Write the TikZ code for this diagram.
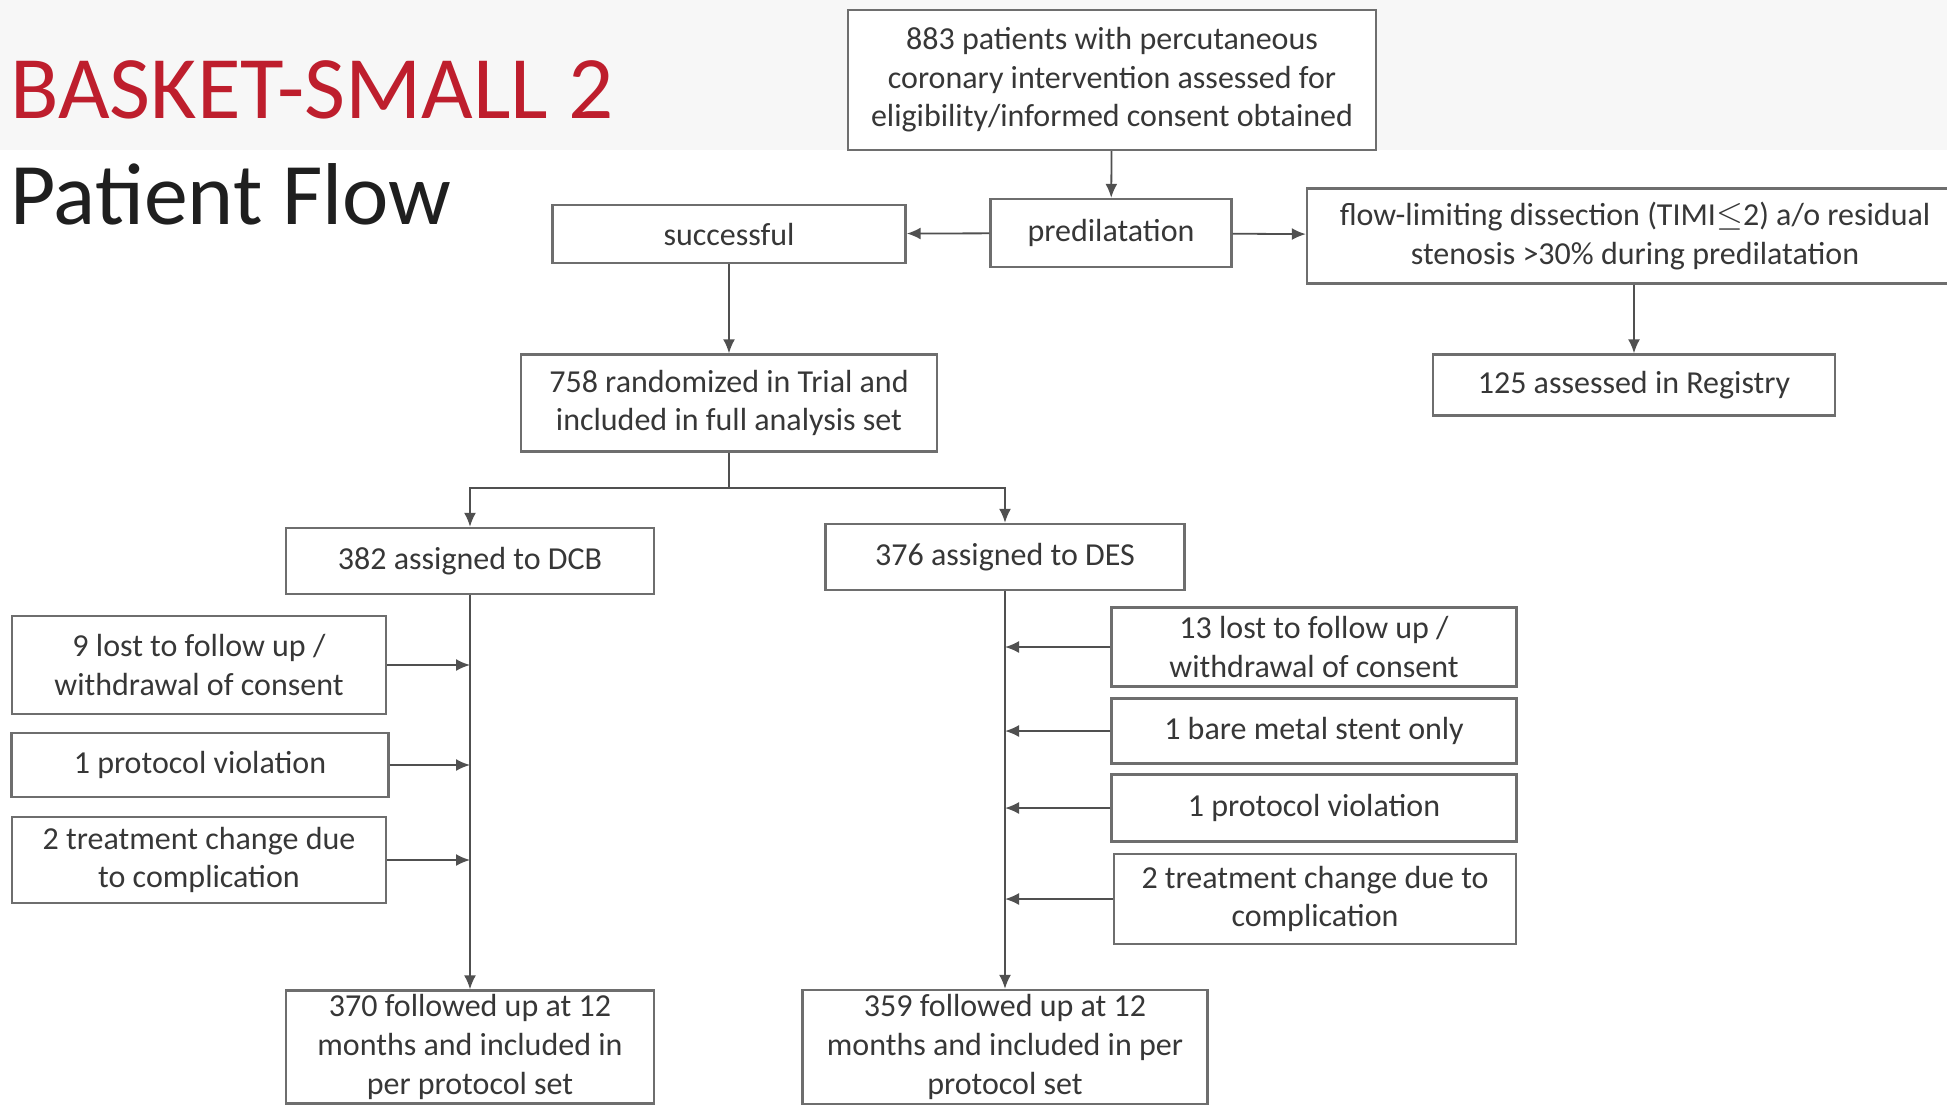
\documentclass[tikz,border=0pt]{standalone}
\usepackage{fontspec}
\setmainfont{Carlito}
\usetikzlibrary{arrows.meta,calc}

\definecolor{titlered}{RGB}{190,30,45}
\definecolor{boxgray}{RGB}{110,110,110}
\definecolor{linegray}{RGB}{80,80,80}
\definecolor{textgray}{RGB}{55,55,55}

\tikzset{
  box/.style={draw=boxgray,line width=1.2pt,fill=white,align=center,inner sep=0pt,
    text=textgray,font=\fontsize{16}{19.3}\selectfont},
  boxsize/.style 2 args={minimum width=#1*0.5pt,minimum height=#2*0.5pt},
  flow/.style={draw=linegray,line width=0.9pt,-{Latex[length=7pt,width=6pt]}},
}

\begin{document}
\begin{tikzpicture}[x=0.5pt,y=-0.5pt]

\clip (0,0) rectangle (1947,1105);
\fill[white] (0,0) rectangle (1947,1105);
\fill[black!3] (0,0) rectangle (1947,150);

\node[anchor=base west,inner sep=0pt,text=titlered,font=\fontsize{44.6}{48}\selectfont] (title) at (10,118) {BASKET-SMALL 2};
\node[anchor=base west,inner sep=0pt,text=black!88,font=\fontsize{43.9}{48}\selectfont] (subtitle) at (10,224) {Patient Flow};

% screening and predilatation
\node[box,boxsize={528}{140}] (screen) at (1112,80) {883 patients with percutaneous\\coronary intervention assessed for\\eligibility/informed consent obtained};
\node[box,boxsize={241}{68}] (predil) at (1111,233) {predilatation};
\node[box,boxsize={353}{58}] (success) at (729,234) {successful};
\node[box,boxsize={656}{95}] (flowlim) at (1635,236) {flow-limiting dissection (TIMI$\leq$2) a/o residual\\stenosis >30\% during predilatation};
\node[box,boxsize={402}{61}] (registry) at (1634,385) {125 assessed in Registry};
\node[box,boxsize={416}{97}] (random) at (729,403) {758 randomized in Trial and\\included in full analysis set};

% arms
\node[box,boxsize={368}{66}] (dcb) at (470,561) {382 assigned to DCB};
\node[box,boxsize={359}{66}] (des) at (1005,557) {376 assigned to DES};

\node[box,boxsize={374}{98}] (lostL) at (199,665) {9 lost to follow up /\\withdrawal of consent};
\node[box,boxsize={377}{64}] (protL) at (200,765) {1 protocol violation};
\node[box,boxsize={374}{86}] (treatL) at (199,860) {2 treatment change due\\to complication};

\node[box,boxsize={405}{79}] (lostR) at (1314,647) {13 lost to follow up /\\withdrawal of consent};
\node[box,boxsize={405}{65}] (bms) at (1314,731) {1 bare metal stent only};
\node[box,boxsize={405}{67}] (protR) at (1314,808) {1 protocol violation};
\node[box,boxsize={402}{90}] (treatR) at (1315,899) {2 treatment change due to\\complication};

\node[box,boxsize={368}{113}] (fuL) at (470,1047) {370 followed up at 12\\months and included in\\per protocol set};
\node[box,boxsize={405}{114}] (fuR) at (1005,1047) {359 followed up at 12\\months and included in per\\protocol set};

\coordinate (split) at (729,488);

\draw[flow] (screen) -- (predil);
\draw[flow] (predil) -- (success);
\draw[flow] (predil) -- (flowlim);
\draw[flow] (success) -- (random);
\draw[flow] (flowlim.south -| registry.north) -- (registry);
\draw[draw=linegray,line width=0.9pt] (random) -- (split);
\draw[flow] (split) -| (dcb);
\draw[flow] (split) -| (des);
\draw[flow] (dcb) -- (fuL);
\draw[flow] (des) -- (fuR);

\foreach \n in {lostL,protL,treatL}
  \draw[flow] (\n.east) -- (\n.east -| dcb.south);
\foreach \n in {lostR,bms,protR,treatR}
  \draw[flow] (\n.west) -- (\n.west -| des.south);

\end{tikzpicture}
\end{document}
